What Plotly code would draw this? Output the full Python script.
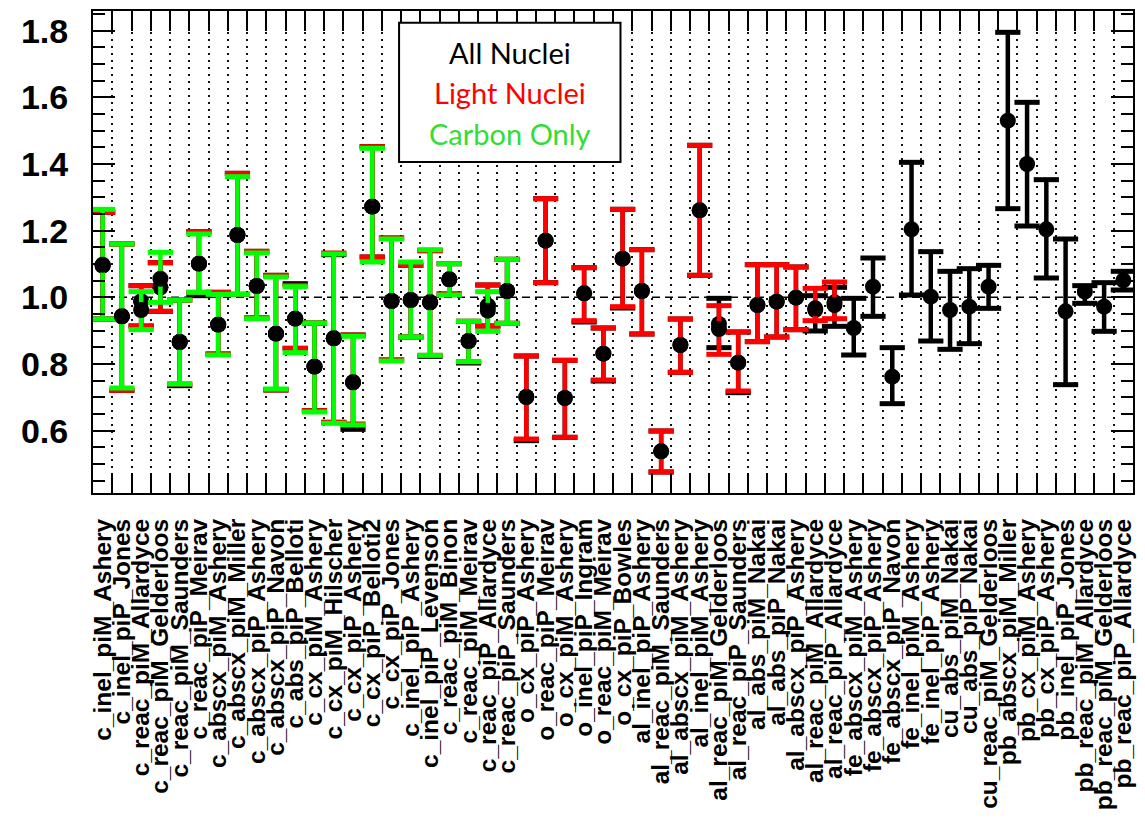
import plotly.graph_objects as go

# Measurement names, one per bin
labels = [
    "c_inel_piM_Ashery", "c_inel_piP_Jones", "c_reac_piM_Allardyce", "c_reac_piM_Gelderloos",
    "c_reac_piM_Saunders", "c_reac_piP_Meirav", "c_abscx_piM_Ashery", "c_abscx_piM_Miller",
    "c_abscx_piP_Ashery", "c_abscx_piP_Navon", "c_abs_piP_Belloti", "c_cx_piM_Ashery",
    "c_cx_piM_Hilscher", "c_cx_piP_Ashery", "c_cx_piP_Belloti2", "c_cx_piP_Jones",
    "c_inel_piP_Ashery", "c_inel_piP_Levenson", "c_reac_piM_Binon", "c_reac_piM_Meirav",
    "c_reac_piP_Allardyce", "c_reac_piP_Saunders", "o_cx_piP_Ashery", "o_reac_piP_Meirav",
    "o_cx_piM_Ashery", "o_inel_piP_Ingram", "o_reac_piM_Meirav", "o_cx_piP_Bowles",
    "al_inel_piP_Ashery", "al_reac_piM_Saunders", "al_abscx_piM_Ashery", "al_inel_piM_Ashery",
    "al_reac_piM_Gelderloos", "al_reac_piP_Saunders", "al_abs_piM_Nakai", "al_abs_piP_Nakai",
    "al_abscx_piP_Ashery", "al_reac_piM_Allardyce", "al_reac_piP_Allardyce", "fe_abscx_piM_Ashery",
    "fe_abscx_piP_Ashery", "fe_abscx_piP_Navon", "fe_inel_piM_Ashery", "fe_inel_piP_Ashery",
    "cu_abs_piM_Nakai", "cu_abs_piP_Nakai", "cu_reac_piM_Gelderloos", "pb_abscx_piM_Miller",
    "pb_cx_piM_Ashery", "pb_cx_piP_Ashery", "pb_inel_piP_Jones", "pb_reac_piM_Allardyce",
    "pb_reac_piM_Gelderloos", "pb_reac_piP_Allardyce",
]

# Fit to all nuclei: central ratio, upper and lower edge of the error bar
all_val = [1.095, 0.943, 0.988, 1.030, 0.866, 1.101, 0.918, 1.187, 1.034, 0.891, 0.936,
           0.792, 0.877, 0.745, 1.272, 0.989, 0.992, 0.985, 1.054, 0.869, 0.975, 1.019,
           0.701, 1.170, 0.698, 1.012, 0.831, 1.116, 1.019, 0.538, 0.857, 1.261, 0.920,
           0.804, 0.977, 0.987, 0.999, 0.962, 0.985, 0.908, 1.032, 0.762, 1.204, 1.002,
           0.962, 0.972, 1.032, 1.530, 1.400, 1.204, 0.958, 1.017, 0.972, 1.051]
all_hi = [1.255, 1.160, 1.035, 1.104, 0.992, 1.197, 1.015, 1.372, 1.138, 1.066, 1.041,
          0.923, 1.128, 0.887, 1.452, 1.178, 1.096, 1.140, 1.101, 0.928, 1.037, 1.114,
          0.824, 1.296, 0.811, 1.089, 0.908, 1.264, 1.143, 0.599, 0.935, 1.456, 0.997,
          0.896, 1.098, 1.098, 1.091, 1.005, 1.030, 0.997, 1.118, 0.849, 1.405, 1.137,
          1.078, 1.086, 1.096, 1.795, 1.585, 1.353, 1.175, 1.035, 1.044, 1.078]
all_lo = [0.935, 0.721, 0.914, 0.958, 0.735, 1.005, 0.830, 1.009, 0.938, 0.722, 0.847,
          0.660, 0.625, 0.604, 1.121, 0.812, 0.881, 0.823, 1.010, 0.803, 0.914, 0.922,
          0.570, 1.044, 0.580, 0.926, 0.749, 0.968, 0.890, 0.476, 0.775, 1.066, 0.849,
          0.714, 0.867, 0.881, 0.903, 0.899, 0.913, 0.827, 0.943, 0.681, 1.007, 0.869,
          0.844, 0.861, 0.967, 1.266, 1.214, 1.058, 0.738, 0.982, 0.898, 1.022]

# Fit to light nuclei (C, O, Al)
light_val = [1.095, 0.943, 0.988, 1.030, 0.866, 1.101, 0.918, 1.187, 1.034, 0.891, 0.936,
             0.792, 0.877, 0.745, 1.272, 0.989, 0.992, 0.985, 1.054, 0.869, 0.975, 1.019,
             0.701, 1.170, 0.698, 1.012, 0.831, 1.116, 1.019, 0.538, 0.857, 1.261, 0.905,
             0.804, 0.977, 0.987, 0.999, 0.967, 0.977]
light_hi = [1.255, 1.160, 1.035, 1.104, 0.992, 1.197, 1.015, 1.372, 1.138, 1.066, 1.036,
            0.923, 1.133, 0.887, 1.452, 1.178, 1.096, 1.140, 1.101, 0.928, 1.037, 1.114,
            0.824, 1.296, 0.811, 1.089, 0.908, 1.264, 1.143, 0.599, 0.935, 1.456, 0.975,
            0.896, 1.098, 1.098, 1.091, 1.027, 1.046]
light_lo = [0.935, 0.721, 0.914, 0.958, 0.740, 1.015, 0.830, 1.009, 0.938, 0.722, 0.847,
            0.660, 0.625, 0.620, 1.121, 0.812, 0.881, 0.826, 1.010, 0.807, 0.914, 0.922,
            0.575, 1.044, 0.580, 0.930, 0.752, 0.972, 0.890, 0.476, 0.775, 1.066, 0.829,
            0.719, 0.867, 0.881, 0.903, 0.930, 0.936]

# Fit to carbon data only
carbon_val = [1.098, 0.943, 0.962, 1.056, 0.866, 1.101, 0.918, 1.187, 1.034, 0.891, 0.936,
              0.792, 0.877, 0.745, 1.272, 0.989, 0.992, 0.985, 1.054, 0.869, 0.960, 1.019]
carbon_hi = [1.264, 1.160, 1.017, 1.135, 0.992, 1.190, 1.009, 1.362, 1.133, 1.061, 1.032,
             0.923, 1.130, 0.883, 1.447, 1.175, 1.106, 1.143, 1.101, 0.928, 1.017, 1.114]
carbon_lo = [0.935, 0.728, 0.903, 0.985, 0.740, 1.015, 0.827, 1.009, 0.936, 0.725, 0.834,
             0.656, 0.622, 0.617, 1.106, 0.809, 0.881, 0.826, 1.007, 0.807, 0.898, 0.922]

series = [
    ("All Nuclei", all_val, all_hi, all_lo, "#000000", "#000000"),
    ("Light Nuclei", light_val, light_hi, light_lo, "#ff0000", "#ff0000"),
    ("Carbon Only", carbon_val, carbon_hi, carbon_lo, "#00ff00", "#33dd33"),
]

fig = go.Figure()
for name, val, hi, lo, col, _ in series:
    cats = labels[:len(val)]
    # vertical error bar
    fig.add_trace(go.Scatter(
        x=cats, y=val, mode="markers", marker=dict(size=1, color="rgba(0,0,0,0)"),
        error_y=dict(type="data", symmetric=False,
                     array=[h - v for h, v in zip(hi, val)],
                     arrayminus=[v - l for v, l in zip(val, lo)],
                     color=col, thickness=4.5, width=0),
        showlegend=False, hoverinfo="skip"))
    # end caps
    fig.add_trace(go.Scatter(
        x=cats + cats, y=list(hi) + list(lo), mode="markers",
        marker=dict(symbol="line-ew", size=18, line=dict(width=5, color=col)),
        showlegend=False, hoverinfo="skip"))
    # central values
    fig.add_trace(go.Scatter(
        x=cats, y=val, mode="markers", name=name,
        marker=dict(symbol="circle", size=16, color="black"),
        showlegend=False))

# reference line at ratio 1
fig.add_shape(type="line", xref="paper", yref="y", x0=0, x1=1, y0=1, y1=1,
              line=dict(color="black", width=1.5, dash="8px,5px"), layer="between")

# text legend box
fig.add_shape(type="rect", xref="paper", yref="paper", x0=0.2943, x1=0.5072,
              y0=0.6865, y1=0.9754, line=dict(color="black", width=2),
              fillcolor="white", layer="above")
for i, (name, *_rest) in enumerate(series):
    fig.add_annotation(text=name, xref="paper", yref="paper", x=0.4008,
                       y=0.9146 - i * 0.084, showarrow=False, xanchor="center",
                       yanchor="middle",
                       font=dict(family="Lato", size=29, color=series[i][5]))

fig.update_layout(
    width=1145, height=819,
    margin=dict(l=93, r=9, t=9, b=322),
    plot_bgcolor="white", paper_bgcolor="white",
    showlegend=False,
)
fig.update_xaxes(
    type="category", categoryorder="array", categoryarray=labels,
    range=[-0.5, len(labels) - 0.5], tickmode="linear", dtick=1,
    tickson="boundaries", ticks="inside", ticklen=20, tickwidth=1.5, tickcolor="black",
    showline=True, linecolor="black", linewidth=2, mirror="ticks",
    showgrid=True, gridcolor="#111111", griddash="2px,5px", gridwidth=1.5,
    tickangle=-90, ticklabelstandoff=14,
    tickfont=dict(family="Liberation Sans", size=24.5, color="black", weight="bold"),
    zeroline=False,
)
fig.update_yaxes(
    range=[0.413, 1.859], tickmode="linear", tick0=0, dtick=0.2, tickformat=".1f",
    ticks="inside", ticklen=22, tickwidth=2, tickcolor="black",
    minor=dict(dtick=0.05, tick0=0, ticks="inside", ticklen=12, tickwidth=1.5,
               tickcolor="black", showgrid=False),
    showline=True, linecolor="black", linewidth=2, mirror="ticks",
    showgrid=False, zeroline=False, ticklabelstandoff=16,
    tickfont=dict(family="Liberation Sans", size=34, color="black", weight="bold"),
)

fig.write_html("out.html")
